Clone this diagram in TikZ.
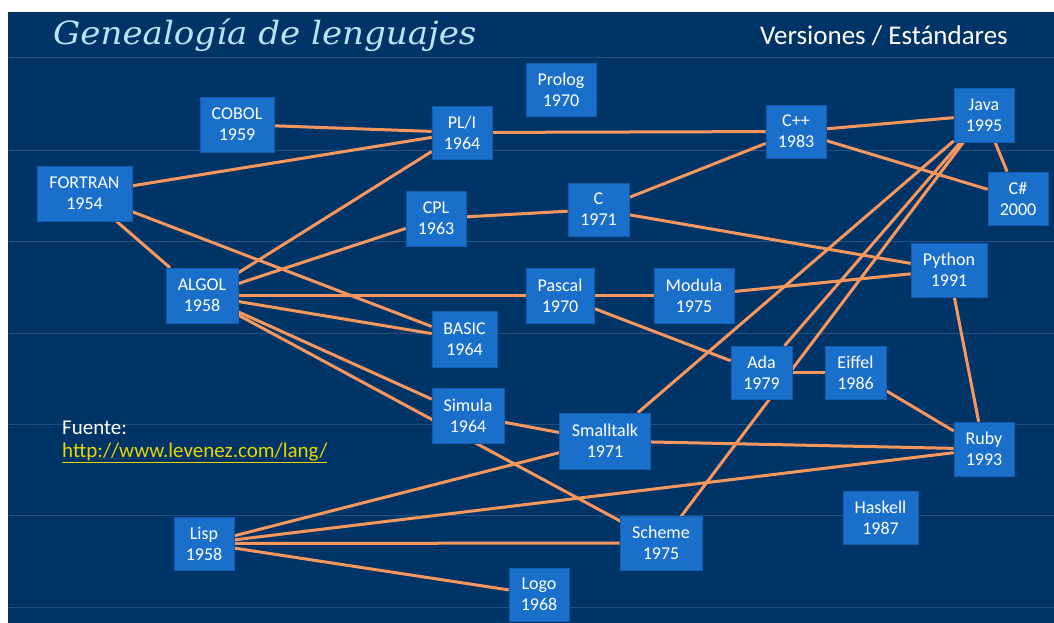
\documentclass[tikz,border=0pt]{standalone}
\usepackage{fontspec}
\setmainfont{Carlito}
\newfontfamily\titlefont{DejaVu Serif}

\definecolor{navy}{HTML}{013466}
\definecolor{gridline}{HTML}{24507F}
\definecolor{boxblue}{HTML}{1A6FCB}
\definecolor{boxedge}{HTML}{135DAF}
\definecolor{linkorange}{HTML}{F7975E}
\definecolor{titlecyan}{HTML}{B2E7F7}
\definecolor{urlyellow}{HTML}{E6D600}

\pgfdeclarelayer{backdrop}
\pgfdeclarelayer{links}
\pgfsetlayers{backdrop,links,main}

\begin{document}
\begin{tikzpicture}[x=1pt,y=-1pt,
  lang/.style={fill=boxblue, draw=boxedge, line width=0.6pt, text=white,
    font=\fontsize{18}{21}\selectfont, align=center, inner sep=0pt},
  link/.style={draw=linkorange, line width=3pt},
  caption/.style={anchor=base west, inner sep=0pt}]
\useasboundingbox (0,0) rectangle (1054,623);

% slide background with faint horizontal rules
\begin{pgfonlayer}{backdrop}
  \fill[navy] (8,12) rectangle (1054,623);
  \foreach \y in {58,150,241,333,424,515,607}
    \draw[gridline, line width=1pt] (8,\y) -- (1054,\y);
\end{pgfonlayer}

% headings
\node[caption, text=titlecyan, xscale=1.065, font=\titlefont\itshape\fontsize{32}{32}\selectfont] (title) at (53,45) {Genealogía de lenguajes};
\node[caption, text=white, font=\fontsize{27}{27}\selectfont] (versions) at (760,45) {Versiones / Estándares};

% source note
\node[caption, text=white, font=\fontsize{21}{24}\selectfont] (src) at (62,434) {Fuente:};
\node[caption, text=urlyellow, font=\fontsize{21}{24}\selectfont] (url) at (62,457) {{\color{urlyellow}\underline{http://www.levenez.com/lang/}}};

% languages
\node[lang, minimum width=95pt, minimum height=55pt] (fortran) at (84.5,193.5) {FORTRAN\\1954};
\node[lang, minimum width=72pt, minimum height=55pt] (algol) at (202,295.5) {ALGOL\\1958};
\node[lang, minimum width=74pt, minimum height=55pt] (cobol) at (237,124.5) {COBOL\\1959};
\node[lang, minimum width=60pt, minimum height=53pt] (pli) at (462,132.5) {PL/I\\1964};
\node[lang, minimum width=70pt, minimum height=53pt] (prolog) at (561,89.5) {Prolog\\1970};
\node[lang, minimum width=60pt, minimum height=55pt] (cpl) at (436,218.5) {CPL\\1963};
\node[lang, minimum width=61pt, minimum height=53pt] (c) at (598.5,209.5) {C\\1971};
\node[lang, minimum width=60pt, minimum height=53pt] (cpp) at (796,131.5) {C++\\1983};
\node[lang, minimum width=60pt, minimum height=54pt] (java) at (984,115) {Java\\1995};
\node[lang, minimum width=60pt, minimum height=53pt] (csharp) at (1018,198.5) {C\#\\2000};
\node[lang, minimum width=76pt, minimum height=54pt] (python) at (949,270) {Python\\1991};
\node[lang, minimum width=68pt, minimum height=55pt] (pascal) at (560,295.5) {Pascal\\1970};
\node[lang, minimum width=80pt, minimum height=55pt] (modula) at (694,295.5) {Modula\\1975};
\node[lang, minimum width=65pt, minimum height=56pt] (basic) at (464.5,339) {BASIC\\1964};
\node[lang, minimum width=72pt, minimum height=55pt] (simula) at (468,415.5) {Simula\\1964};
\node[lang, minimum width=91pt, minimum height=56pt] (smalltalk) at (605,441) {Smalltalk\\1971};
\node[lang, minimum width=61pt, minimum height=53pt] (ada) at (761.5,372.5) {Ada\\1979};
\node[lang, minimum width=61pt, minimum height=53pt] (eiffel) at (855.5,372.5) {Eiffel\\1986};
\node[lang, minimum width=60pt, minimum height=54pt] (ruby) at (984,449) {Ruby\\1993};
\node[lang, minimum width=75pt, minimum height=53pt] (haskell) at (880.5,517.5) {Haskell\\1987};
\node[lang, minimum width=60pt, minimum height=53pt] (lisp) at (204,543.5) {Lisp\\1958};
\node[lang, minimum width=82pt, minimum height=54pt] (scheme) at (661,543) {Scheme\\1975};
\node[lang, minimum width=60pt, minimum height=53pt] (logo) at (539,594.5) {Logo\\1968};

% lines of descent
\begin{pgfonlayer}{links}
  \draw[link] (cobol) -- (pli);
  \draw[link] (fortran) -- (pli);
  \draw[link] (fortran) -- (algol);
  \draw[link] (fortran) -- (basic);
  \draw[link] (algol) -- (pli);
  \draw[link] (algol) -- (cpl);
  \draw[link] (algol) -- (pascal);
  \draw[link] (algol) -- (basic);
  \draw[link] (algol) -- (simula);
  \draw[link] (algol.center) -- (scheme.center);
  \draw[link] (pli) -- (cpp);
  \draw[link] (cpl) -- (c);
  \draw[link] (c) -- (cpp);
  \draw[link] (c) -- (python);
  \draw[link] (cpp) -- (java);
  \draw[link] (cpp) -- (csharp);
  \draw[link] (java) -- (csharp);
  \draw[link] (pascal) -- (modula);
  \draw[link] (pascal) -- (ada);
  \draw[link] (modula) -- (python);
  \draw[link] (ada) -- (eiffel);
  \draw[link] (ada) -- (java);
  \draw[link] (eiffel) -- (ruby);
  \draw[link] (python) -- (ruby);
  \draw[link] (smalltalk) -- (java);
  \draw[link] (smalltalk) -- (ruby);
  \draw[link] (scheme.center) -- (java.center);
  \draw[link] (simula) -- (smalltalk);
  \draw[link] (lisp) -- (smalltalk);
  \draw[link] (lisp) -- (ruby);
  \draw[link] (lisp) -- (scheme);
  \draw[link] (lisp) -- (logo);
\end{pgfonlayer}
\end{tikzpicture}
\end{document}
